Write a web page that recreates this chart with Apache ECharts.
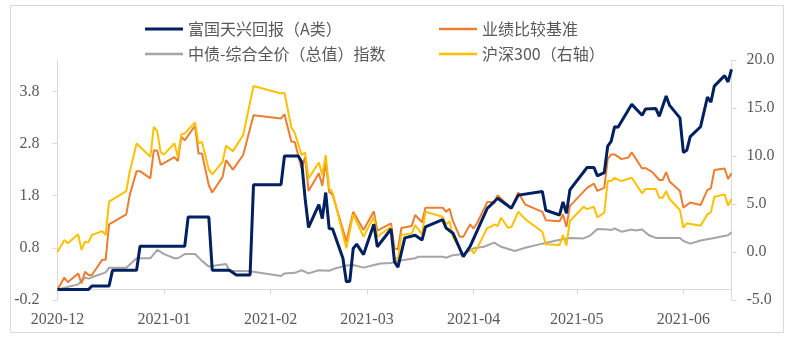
<!DOCTYPE html>
<html>
<head>
<meta charset="utf-8">
<script src="https://cdn.jsdelivr.net/npm/echarts@6/dist/echarts.min.js"></script>
<style>
html,body{margin:0;padding:0;background:#fff;}
#chart{width:807px;height:341px;}
</style>
</head>
<body>
<div id="chart"></div>
<script>
// ---- DATA ----
const seriesNames = ['富国天兴回报（A类）', '业绩比较基准', '中债-综合全价（总值）指数', '沪深300（右轴）'];
const monthTicks = ['2020-12-01','2021-01-01','2021-02-01','2021-03-01','2021-04-01','2021-05-01','2021-06-01'];
const xRange = ['2020-12-01', '2021-06-15'];
const leftTicks = [-0.2, 0.8, 1.8, 2.8, 3.8];
const rightTicks = [-5, 0, 5, 10, 15, 20];

const fundData = [
['2020-12-01',0],['2020-12-10',0],['2020-12-11',0.07],['2020-12-16',0.07],['2020-12-17',0.37],['2020-12-24',0.37],
['2020-12-25',0.83],['2021-01-07',0.83],['2021-01-08',1.39],['2021-01-14',1.39],['2021-01-15',0.37],['2021-01-20',0.37],
['2021-01-22',0.28],['2021-01-26',0.28],['2021-01-27',2.01],['2021-02-04',2.01],['2021-02-05',2.56],['2021-02-09',2.56],
['2021-02-10',2.45],['2021-02-11',1.75],['2021-02-12',1.19],['2021-02-15',1.63],['2021-02-16',1.36],['2021-02-17',1.86],
['2021-02-18',1.17],['2021-02-19',1.16],['2021-02-22',0.60],['2021-02-23',0.15],['2021-02-24',0.16],['2021-02-25',0.79],
['2021-02-26',0.87],['2021-02-28',0.67],['2021-03-01',0.87],['2021-03-03',1.25],['2021-03-04',0.82],['2021-03-08',1.16],
['2021-03-09',0.53],['2021-03-10',0.43],['2021-03-12',0.99],['2021-03-15',1.04],['2021-03-17',0.95],['2021-03-18',1.20],
['2021-03-23',1.34],['2021-03-24',1.18],['2021-03-26',1.08],['2021-03-29',0.63],['2021-03-31',0.83],['2021-04-05',1.56],
['2021-04-06',1.62],['2021-04-08',1.75],['2021-04-12',1.56],['2021-04-14',1.81],['2021-04-21',1.88],['2021-04-22',1.52],
['2021-04-26',1.43],['2021-04-27',1.68],['2021-04-28',1.46],['2021-04-29',1.91],['2021-05-04',2.34],['2021-05-06',2.34],
['2021-05-07',2.18],['2021-05-09',2.24],['2021-05-10',2.75],['2021-05-11',2.84],['2021-05-12',3.12],['2021-05-13',3.11],
['2021-05-17',3.55],['2021-05-20',3.34],['2021-05-21',3.46],['2021-05-24',3.47],['2021-05-25',3.32],['2021-05-27',3.71],
['2021-05-28',3.53],['2021-05-31',3.29],['2021-06-01',2.63],['2021-06-02',2.67],['2021-06-03',2.93],['2021-06-06',3.12],
['2021-06-08',3.69],['2021-06-09',3.59],['2021-06-10',3.90],['2021-06-13',4.10],['2021-06-14',3.98],['2021-06-15',4.22]
];

const benchData = [
['2020-12-01',0],['2020-12-03',0.23],['2020-12-04',0.14],['2020-12-07',0.31],['2020-12-08',0.12],['2020-12-09',0.34],
['2020-12-10',0.28],['2020-12-11',0.28],['2020-12-14',0.57],['2020-12-15',0.57],['2020-12-16',1.25],['2020-12-21',1.44],
['2020-12-22',1.81],['2020-12-24',2.27],['2020-12-25',2.27],['2020-12-28',2.13],['2020-12-29',2.67],['2020-12-30',2.66],
['2020-12-31',2.39],['2021-01-04',2.54],['2021-01-05',2.46],['2021-01-06',2.93],['2021-01-07',2.86],['2021-01-10',3.14],
['2021-01-11',2.61],['2021-01-12',2.61],['2021-01-14',2.00],['2021-01-15',1.86],['2021-01-18',2.16],['2021-01-19',2.48],
['2021-01-21',2.30],['2021-01-24',2.58],['2021-01-27',3.34],['2021-02-04',3.28],['2021-02-05',3.36],['2021-02-07',2.84],
['2021-02-08',2.83],['2021-02-10',2.32],['2021-02-11',2.54],['2021-02-12',1.89],['2021-02-15',2.23],['2021-02-16',1.99],
['2021-02-17',2.45],['2021-02-18',1.87],['2021-02-19',1.82],['2021-02-23',0.92],['2021-02-25',1.49],['2021-02-28',1.14],
['2021-03-03',1.50],['2021-03-04',1.13],['2021-03-08',1.27],['2021-03-09',0.79],['2021-03-10',0.77],['2021-03-11',1.18],
['2021-03-14',1.22],['2021-03-15',1.43],['2021-03-17',1.29],['2021-03-18',1.57],['2021-03-23',1.57],['2021-03-24',1.49],
['2021-03-25',1.55],['2021-03-26',1.31],['2021-03-28',1.01],['2021-03-29',1.01],['2021-03-31',1.25],['2021-04-01',1.17],
['2021-04-02',1.27],['2021-04-05',1.68],['2021-04-06',1.68],['2021-04-07',1.65],['2021-04-08',1.81],['2021-04-10',1.68],
['2021-04-12',1.56],['2021-04-14',1.86],['2021-04-16',1.63],['2021-04-21',1.49],['2021-04-22',1.33],['2021-04-26',1.31],
['2021-04-27',1.44],['2021-04-28',1.20],['2021-04-29',1.60],['2021-05-04',1.95],['2021-05-06',2.03],['2021-05-07',1.89],
['2021-05-09',1.95],['2021-05-10',2.50],['2021-05-11',2.59],['2021-05-12',2.59],['2021-05-14',2.50],['2021-05-16',2.53],
['2021-05-17',2.63],['2021-05-20',2.32],['2021-05-21',2.33],['2021-05-23',2.25],['2021-05-25',2.10],['2021-05-26',2.10],
['2021-05-27',2.25],['2021-05-28',2.07],['2021-05-31',1.89],['2021-06-01',1.57],['2021-06-03',1.67],['2021-06-06',1.62],
['2021-06-08',1.91],['2021-06-09',1.94],['2021-06-10',2.29],['2021-06-13',2.32],['2021-06-14',2.12],['2021-06-15',2.23]
];

const bondData = [
['2020-12-01',0],['2020-12-07',0.10],['2020-12-09',0.23],['2020-12-10',0.21],['2020-12-12',0.26],['2020-12-15',0.33],
['2020-12-16',0.42],['2020-12-21',0.42],['2020-12-24',0.60],['2020-12-28',0.60],['2020-12-30',0.76],['2021-01-01',0.68],
['2021-01-04',0.60],['2021-01-05',0.60],['2021-01-07',0.68],['2021-01-10',0.68],['2021-01-12',0.55],['2021-01-14',0.44],
['2021-01-19',0.49],['2021-01-20',0.36],['2021-01-26',0.35],['2021-02-04',0.26],['2021-02-05',0.31],['2021-02-08',0.32],
['2021-02-10',0.37],['2021-02-12',0.31],['2021-02-15',0.37],['2021-02-18',0.36],['2021-02-20',0.41],['2021-02-23',0.46],
['2021-02-25',0.47],['2021-02-28',0.42],['2021-03-03',0.47],['2021-03-05',0.50],['2021-03-08',0.51],['2021-03-10',0.55],
['2021-03-15',0.60],['2021-03-16',0.63],['2021-03-23',0.63],['2021-03-24',0.61],['2021-03-26',0.66],['2021-03-29',0.68],
['2021-04-01',0.79],['2021-04-04',0.82],['2021-04-07',0.90],['2021-04-09',0.82],['2021-04-13',0.74],['2021-04-16',0.80],
['2021-04-21',0.88],['2021-04-25',0.94],['2021-04-29',0.99],['2021-05-03',0.98],['2021-05-05',1.04],['2021-05-07',1.16],
['2021-05-10',1.15],['2021-05-11',1.14],['2021-05-12',1.17],['2021-05-14',1.11],['2021-05-17',1.15],['2021-05-18',1.13],
['2021-05-20',1.15],['2021-05-22',1.04],['2021-05-24',0.99],['2021-05-27',0.99],['2021-05-31',0.99],['2021-06-01',0.93],
['2021-06-03',0.88],['2021-06-06',0.94],['2021-06-10',0.99],['2021-06-14',1.04],['2021-06-15',1.10]
];

const csi300Data = [
['2020-12-01',0],['2020-12-03',1.25],['2020-12-04',0.90],['2020-12-07',1.84],['2020-12-08',0.21],['2020-12-09',1.07],
['2020-12-10',1.00],['2020-12-11',1.77],['2020-12-14',2.18],['2020-12-15',1.77],['2020-12-16',5.24],['2020-12-21',6.35],
['2020-12-22',8.36],['2020-12-24',11.31],['2020-12-28',9.92],['2020-12-29',13.04],['2020-12-30',12.59],['2020-12-31',10.37],
['2021-01-01',10.17],['2021-01-04',11.31],['2021-01-05',9.92],['2021-01-06',12.25],['2021-01-07',12.35],['2021-01-10',13.50],
['2021-01-11',11.31],['2021-01-12',11.48],['2021-01-14',8.60],['2021-01-15',8.09],['2021-01-18',9.40],['2021-01-19',11.06],
['2021-01-21',10.51],['2021-01-24',12.17],['2021-01-27',17.30],['2021-02-04',16.51],['2021-02-05',16.60],['2021-02-07',13.00],
['2021-02-08',12.40],['2021-02-10',10.09],['2021-02-11',10.37],['2021-02-12',7.67],['2021-02-15',9.33],['2021-02-16',8.01],
['2021-02-17',10.09],['2021-02-18',6.63],['2021-02-19',6.21],['2021-02-23',0.39],['2021-02-25',3.92],['2021-02-28',1.59],
['2021-03-03',3.67],['2021-03-04',1.59],['2021-03-08',2.63],['2021-03-09',-0.60],['2021-03-10',-0.75],['2021-03-11',1.77],
['2021-03-14',1.94],['2021-03-15',2.81],['2021-03-17',1.84],['2021-03-18',4.19],['2021-03-23',3.67],['2021-03-24',2.88],
['2021-03-25',3.20],['2021-03-26',1.59],['2021-03-29',-0.31],['2021-03-31',0.45],['2021-04-01',-0.14],['2021-04-02',0.38],
['2021-04-05',2.53],['2021-04-06',2.60],['2021-04-07',2.88],['2021-04-08',2.70],['2021-04-09',3.57],['2021-04-11',2.53],
['2021-04-12',2.60],['2021-04-14',4.19],['2021-04-16',3.43],['2021-04-21',2.11],['2021-04-22',0.80],['2021-04-26',0.73],
['2021-04-27',1.77],['2021-04-28',0.66],['2021-04-29',3.23],['2021-05-03',4.72],['2021-05-04',4.47],['2021-05-06',4.72],
['2021-05-07',3.61],['2021-05-09',4.09],['2021-05-10',7.39],['2021-05-11',7.39],['2021-05-12',7.73],['2021-05-14',7.39],
['2021-05-17',7.73],['2021-05-20',6.11],['2021-05-21',6.56],['2021-05-24',6.56],['2021-05-25',5.65],['2021-05-26',5.65],
['2021-05-27',6.35],['2021-05-28',5.52],['2021-05-31',4.37],['2021-06-01',2.53],['2021-06-02',2.99],['2021-06-06',2.74],
['2021-06-08',3.92],['2021-06-09',4.13],['2021-06-10',5.75],['2021-06-13',6.00],['2021-06-14',4.82],['2021-06-15',5.52]
];

// ---- CHART ----
const colors = ['#002060', '#ED7D31', '#A5A5A5', '#FFC000'];
const tp = s => echarts.time.parse(s).getTime();
const toXY = arr => arr.map(p => [tp(p[0]), p[1]]);
const monthTickVals = monthTicks.map(tp);
const pad = n => (n < 10 ? '0' : '') + n;
const axisGray = '#D9D9D9';
const labelColor = '#595959';
const numFont = 'Liberation Serif';
const cjkFont = 'Noto Sans CJK SC';

function legendAt(name, left, top, h) {
  return {
    data: [name], left: left, top: top, padding: 0, itemWidth: 38, itemHeight: h,
    icon: 'rect', selectedMode: false,
    textStyle: { fontSize: 16, color: labelColor, fontFamily: cjkFont }
  };
}

const chart = echarts.init(document.getElementById('chart'), null, { renderer: 'canvas' });
chart.setOption({
  animation: false,
  color: colors,
  graphic: [{
    type: 'rect', shape: { x: 10.5, y: 5.5, width: 773, height: 327 },
    style: { fill: 'none', stroke: axisGray, lineWidth: 1 }, silent: true, z: -1
  }],
  legend: [
    legendAt(seriesNames[0], 145, 21, 3),
    legendAt(seriesNames[1], 439, 21, 2.5),
    legendAt(seriesNames[2], 145, 46, 2.5),
    legendAt(seriesNames[3], 439, 46, 2.5)
  ],
  grid: { left: 57.5, right: 75.5, top: 60, bottom: 41, containLabel: false },
  xAxis: {
    type: 'value', min: tp(xRange[0]), max: tp(xRange[1]),
    axisLine: { show: true, onZero: true, lineStyle: { color: axisGray, width: 1 } },
    axisTick: { show: true, customValues: monthTickVals, length: 5, lineStyle: { color: axisGray } },
    axisLabel: {
      customValues: monthTickVals, margin: 12, fontSize: 16, fontFamily: numFont, color: labelColor,
      formatter: v => { const d = new Date(v); return d.getFullYear() + '-' + pad(d.getMonth() + 1); }
    },
    splitLine: { show: false }
  },
  yAxis: [{
    type: 'value', min: -0.2, max: 4.4, position: 'left',
    axisLine: { show: true, onZero: false, lineStyle: { color: axisGray } },
    axisTick: { show: true, customValues: leftTicks, length: 5, lineStyle: { color: axisGray } },
    axisLabel: { customValues: leftTicks, margin: 18, fontSize: 16, fontFamily: numFont, color: labelColor, formatter: v => v.toFixed(1) },
    splitLine: { show: false }
  }, {
    type: 'value', min: -5, max: 20, interval: 5, position: 'right',
    axisLine: { show: true, onZero: false, lineStyle: { color: axisGray } },
    axisTick: { show: true, customValues: rightTicks, length: 5, lineStyle: { color: axisGray } },
    axisLabel: { customValues: rightTicks, margin: 15, fontSize: 16, fontFamily: numFont, color: labelColor, formatter: v => v.toFixed(1) },
    splitLine: { show: false }
  }],
  series: [
    { name: seriesNames[0], type: 'line', data: toXY(fundData), yAxisIndex: 0, symbol: 'none', lineStyle: { width: 3, color: colors[0] }, z: 5 },
    { name: seriesNames[1], type: 'line', data: toXY(benchData), yAxisIndex: 0, symbol: 'none', lineStyle: { width: 2, color: colors[1] }, z: 3 },
    { name: seriesNames[2], type: 'line', data: toXY(bondData), yAxisIndex: 0, symbol: 'none', lineStyle: { width: 2, color: colors[2] }, z: 2 },
    { name: seriesNames[3], type: 'line', data: toXY(csi300Data), yAxisIndex: 1, symbol: 'none', lineStyle: { width: 2, color: colors[3] }, z: 4 }
  ]
});
</script>
</body>
</html>
